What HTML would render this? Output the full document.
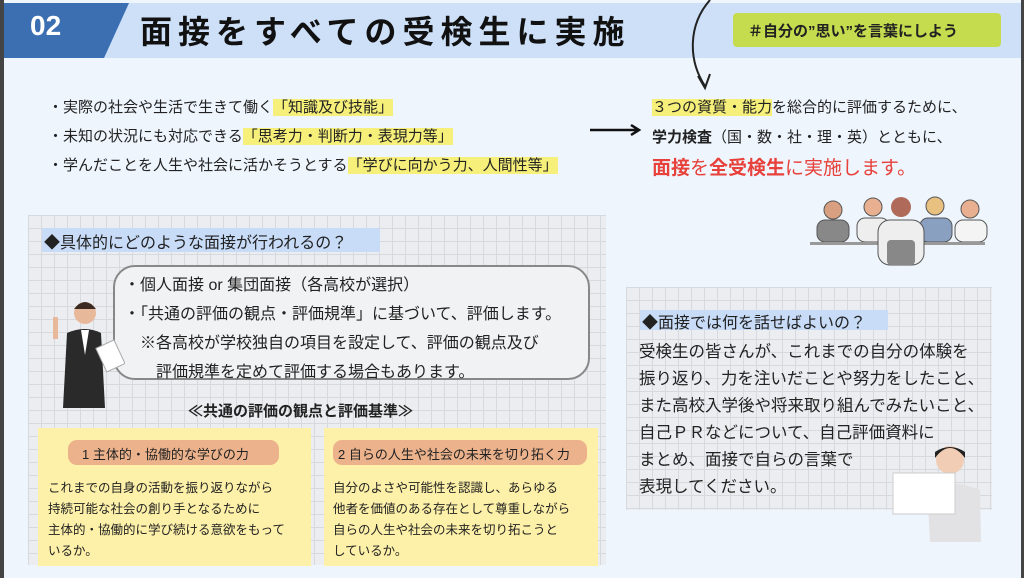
<!DOCTYPE html>
<html><head><meta charset="utf-8"><style>
*{margin:0;padding:0;box-sizing:border-box}
body{width:1024px;height:578px;overflow:hidden;background:#eef5fd;font-family:"Liberation Sans","Noto Sans CJK JP",sans-serif;color:#222;position:relative}
.a{position:absolute;white-space:nowrap}
.grid{background-color:#ebedf0;background-image:linear-gradient(#d6d9de 1px,transparent 1px),linear-gradient(90deg,#d6d9de 1px,transparent 1px);background-size:13px 13px}
.hl{background:#f6f07a}
</style></head><body>
<div class="a" style="left:0;top:0;width:4px;height:578px;background:#444"></div>
<div class="a" style="right:0;top:0;width:3px;height:578px;background:#444"></div>
<div class="a" style="left:4px;top:3px;width:1017px;height:55px;background:#cde0f8"></div>
<div class="a" style="left:4px;top:3px;width:125px;height:55px;background:#3b6fb2;clip-path:polygon(0 0,100% 0,80% 100%,0 100%)"></div>
<div class="a" style="left:30px;top:10px;color:#fff;font-size:28px;font-weight:bold">02</div>
<div class="a" style="left:140px;top:7px;font-size:32px;font-weight:bold;letter-spacing:6px;color:#111">面接をすべての受検生に実施</div>
<div class="a" style="left:733px;top:13px;width:268px;height:34px;background:#c5dc4e;border-radius:4px"></div>
<div class="a" style="left:748px;top:20px;font-size:15px;font-weight:bold">＃自分の”思い”を言葉にしよう</div>
<svg class="a" style="left:670px;top:0" width="60" height="95"><path d="M40 0 C18 25,18 60,35 86" stroke="#222" stroke-width="2" fill="none"/><path d="M28 76 L35 88 L40 74" stroke="#222" stroke-width="2" fill="none"/></svg>
<div class="a" style="left:48px;top:93px;font-size:15px;line-height:29px">・実際の社会や生活で生きて働く<span class="hl">「知識及び技能」</span><br>・未知の状況にも対応できる<span class="hl">「思考力・判断力・表現力等」</span><br>・学んだことを人生や社会に活かそうとする<span class="hl">「学びに向かう力、人間性等」</span></div>
<svg class="a" style="left:588px;top:122px" width="55" height="16"><path d="M2 8 H50 M43 3 L51 8 L43 13" stroke="#111" stroke-width="2.5" fill="none"/></svg>
<div class="a" style="left:652px;top:93px;font-size:15px;line-height:30px"><span class="hl">３つの資質・能力</span>を総合的に評価するために、<br><b>学力検査</b>（国・数・社・理・英）とともに、</div>
<div class="a" style="left:652px;top:153px;font-size:19px;color:#e8403a"><b>面接</b>を<b>全受検生</b>に実施します。</div>
<svg class="a" style="left:805px;top:192px" width="185" height="75">
<g fill="#bbb" stroke="#555"><circle cx="28" cy="18" r="9" fill="#d8a080"/><rect x="12" y="28" width="32" height="22" rx="8" fill="#888"/>
<circle cx="68" cy="15" r="9" fill="#e8b090"/><rect x="52" y="26" width="32" height="24" rx="8" fill="#eee"/>
<circle cx="130" cy="14" r="9" fill="#e8c080"/><rect x="115" y="26" width="32" height="24" rx="8" fill="#8aa0c0"/>
<circle cx="165" cy="17" r="9" fill="#e8b090"/><rect x="150" y="28" width="32" height="22" rx="8" fill="#f4f4f4"/></g>
<rect x="5" y="50" width="175" height="3" fill="#999"/>
<circle cx="96" cy="15" r="10" fill="#b06a5a"/><rect x="73" y="28" width="46" height="45" rx="12" fill="#eee" stroke="#555"/><rect x="82" y="48" width="28" height="25" rx="4" fill="#888"/>
</svg>
<div class="a grid" style="left:28px;top:215px;width:578px;height:350px"></div>
<div class="a" style="left:42px;top:228px;width:338px;height:24px;background:#c8dcf8"></div>
<div class="a" style="left:44px;top:229px;font-size:16px">◆具体的にどのような面接が行われるの？</div>
<div class="a" style="left:113px;top:265px;width:477px;height:115px;border:2px solid #888;border-radius:22px;background:#f1f2f4"></div>
<div class="a" style="left:124px;top:271px;font-size:16px;line-height:29px">・個人面接 or 集団面接（各高校が選択）<br>・「共通の評価の観点・評価規準」に基づいて、評価します。<br>　※各高校が学校独自の項目を設定して、評価の観点及び<br>　　評価規準を定めて評価する場合もあります。</div>
<svg class="a" style="left:45px;top:295px" width="80" height="115"><circle cx="40" cy="18" r="11" fill="#e8b89a"/><path d="M29 14 Q40 0 51 14 Z" fill="#3a2a22"/><path d="M22 38 Q40 30 56 38 L60 113 L18 113 Z" fill="#2a2a2a"/><path d="M36 35 L40 60 L44 35Z" fill="#fff"/><rect x="55" y="48" width="20" height="26" fill="#fff" stroke="#aaa" transform="rotate(-25 65 60)"/><rect x="8" y="22" width="5" height="22" fill="#e8b89a"/></svg>
<div class="a" style="left:188px;top:400px;font-size:15px;font-weight:bold">≪共通の評価の観点と評価基準≫</div>
<div class="a" style="left:38px;top:428px;width:273px;height:138px;background:#fdf0a8"></div>
<div class="a" style="left:324px;top:428px;width:274px;height:138px;background:#fdf0a8"></div>
<div class="a" style="left:68px;top:440px;width:211px;height:25px;background:#ebb28c;border-radius:9px"></div>
<div class="a" style="left:333px;top:440px;width:254px;height:25px;background:#ebb28c;border-radius:9px"></div>
<div class="a" style="left:82px;top:444px;font-size:13px">1 主体的・協働的な学びの力</div>
<div class="a" style="left:338px;top:444px;font-size:13px">2 自らの人生や社会の未来を切り拓く力</div>
<div class="a" style="left:48px;top:478px;font-size:12.5px;line-height:21px">これまでの自身の活動を振り返りながら<br>持続可能な社会の創り手となるために<br>主体的・協働的に学び続ける意欲をもって<br>いるか。</div>
<div class="a" style="left:333px;top:478px;font-size:12.5px;line-height:21px">自分のよさや可能性を認識し、あらゆる<br>他者を価値のある存在として尊重しながら<br>自らの人生や社会の未来を切り拓こうと<br>しているか。</div>
<div class="a grid" style="left:626px;top:287px;width:366px;height:223px"></div>
<div class="a" style="left:640px;top:310px;width:248px;height:20px;background:#c8dcf8"></div>
<div class="a" style="left:642px;top:309px;font-size:16px">◆面接では何を話せばよいの？</div>
<div class="a" style="left:639px;top:339px;font-size:16.5px;line-height:27px">受検生の皆さんが、これまでの自分の体験を<br>振り返り、力を注いだことや努力をしたこと、<br>また高校入学後や将来取り組んでみたいこと、<br>自己ＰＲなどについて、自己評価資料に<br>まとめ、面接で自らの言葉で<br>表現してください。</div>
<svg class="a" style="left:885px;top:442px" width="110" height="100"><circle cx="65" cy="18" r="14" fill="#f2cdb5"/><path d="M50 16 Q65 -4 80 16 L80 10 Q65 0 50 10Z" fill="#222"/><path d="M42 45 Q65 36 95 48 L96 100 L45 100Z" fill="#e2e2e4"/><rect x="8" y="31" width="62" height="41" fill="#fff" stroke="#ccc"/></svg>
</body></html>
